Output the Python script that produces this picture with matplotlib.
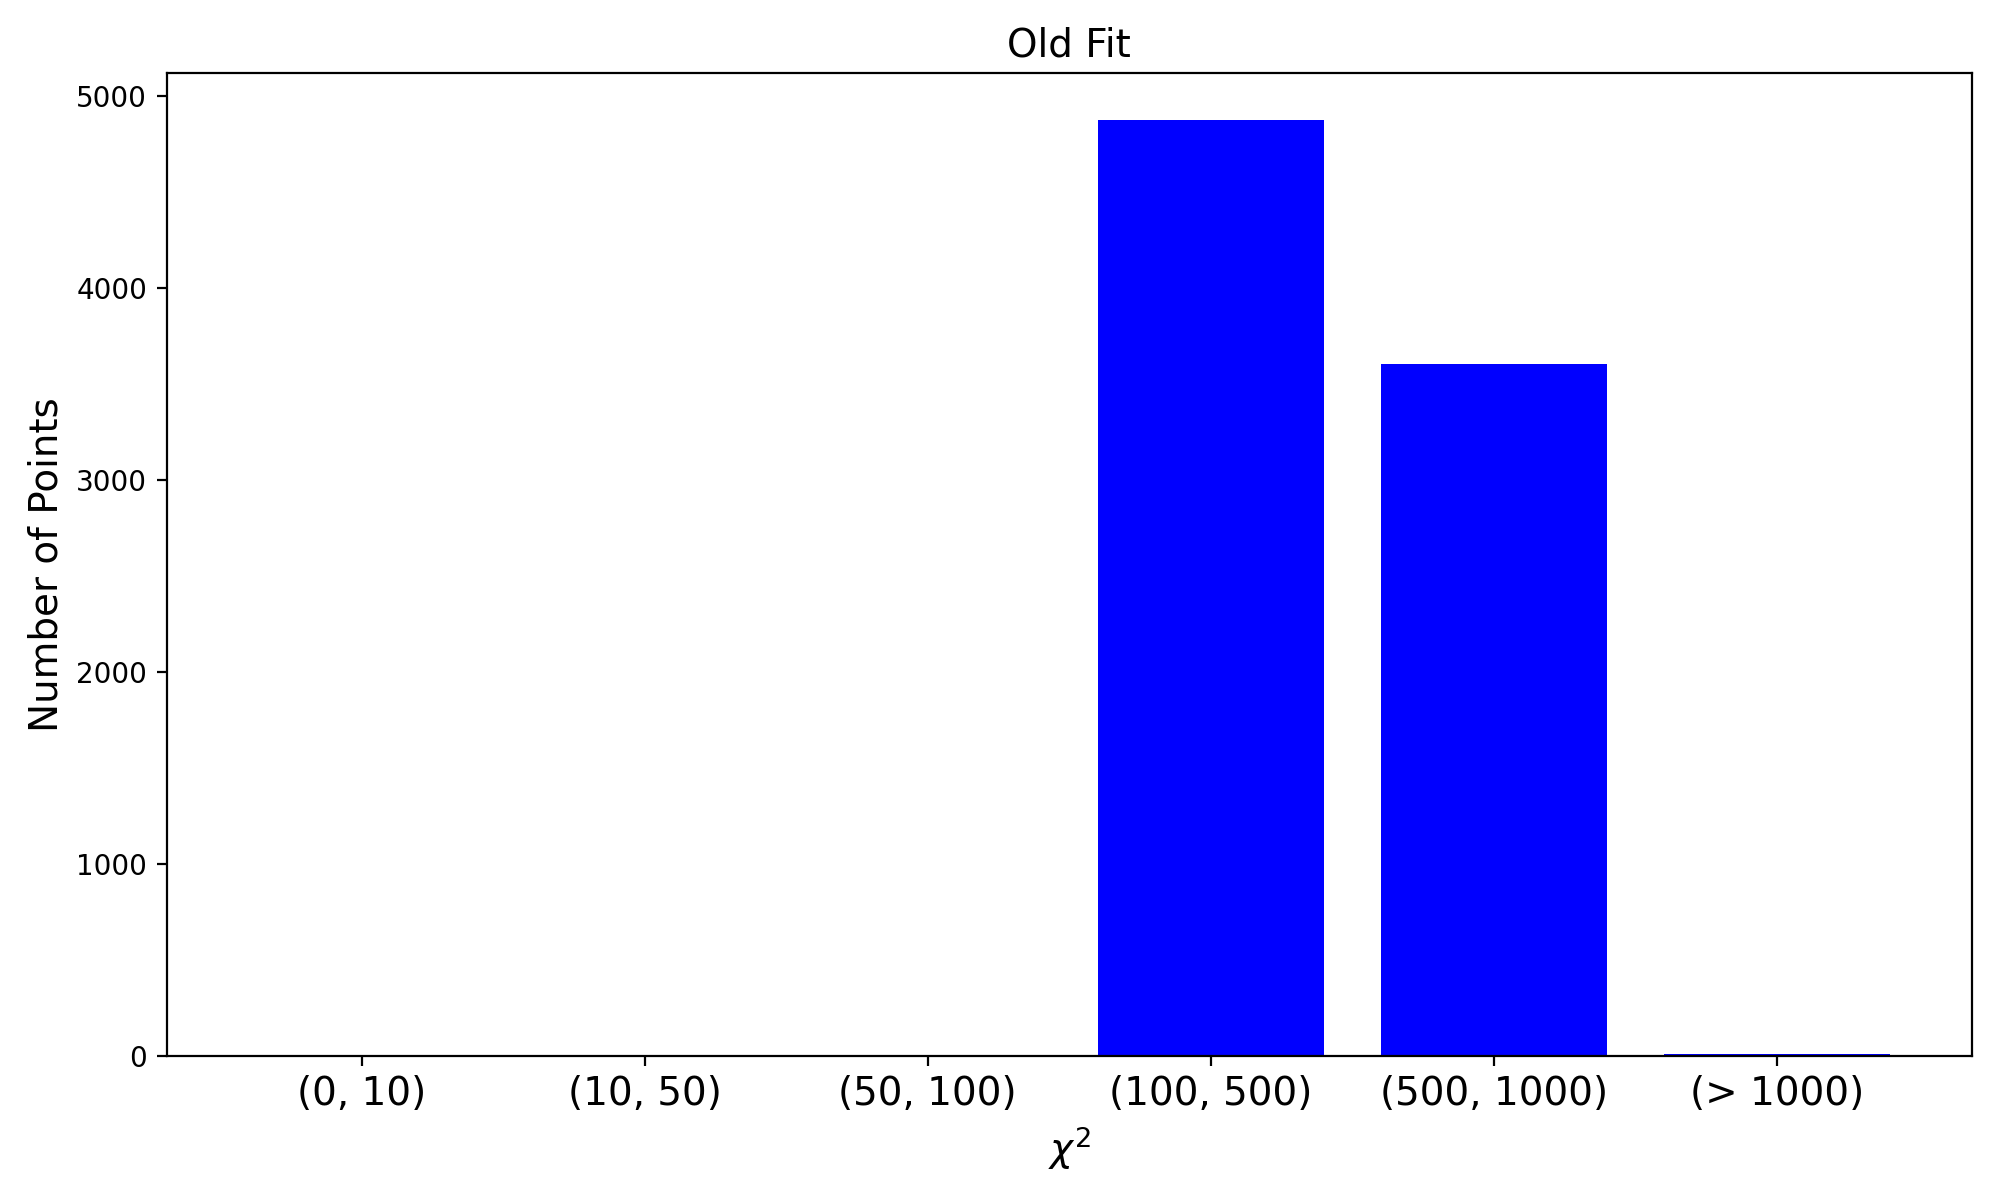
import matplotlib
matplotlib.use("Agg")
import matplotlib.pyplot as plt

bins = ["(0, 10)", "(10, 50)", "(50, 100)", "(100, 500)", "(500, 1000)", "(> 1000)"]
counts = [0, 0, 0, 4876, 3607, 12]


def main():
    plt.figure(figsize=(10, 6))
    plt.bar(range(len(bins)), counts, color="blue")
    plt.xticks(range(len(bins)), bins, fontsize=14)
    plt.xlabel(r"$\chi^2$", fontsize=14)
    plt.ylabel("Number of Points", fontsize=14)
    plt.title("Old Fit", fontsize=14)
    plt.subplots_adjust(left=0.0833, right=0.986, top=0.939, bottom=0.120)
    plt.savefig("out.png", dpi=200)


if __name__ == "__main__":
    main()
